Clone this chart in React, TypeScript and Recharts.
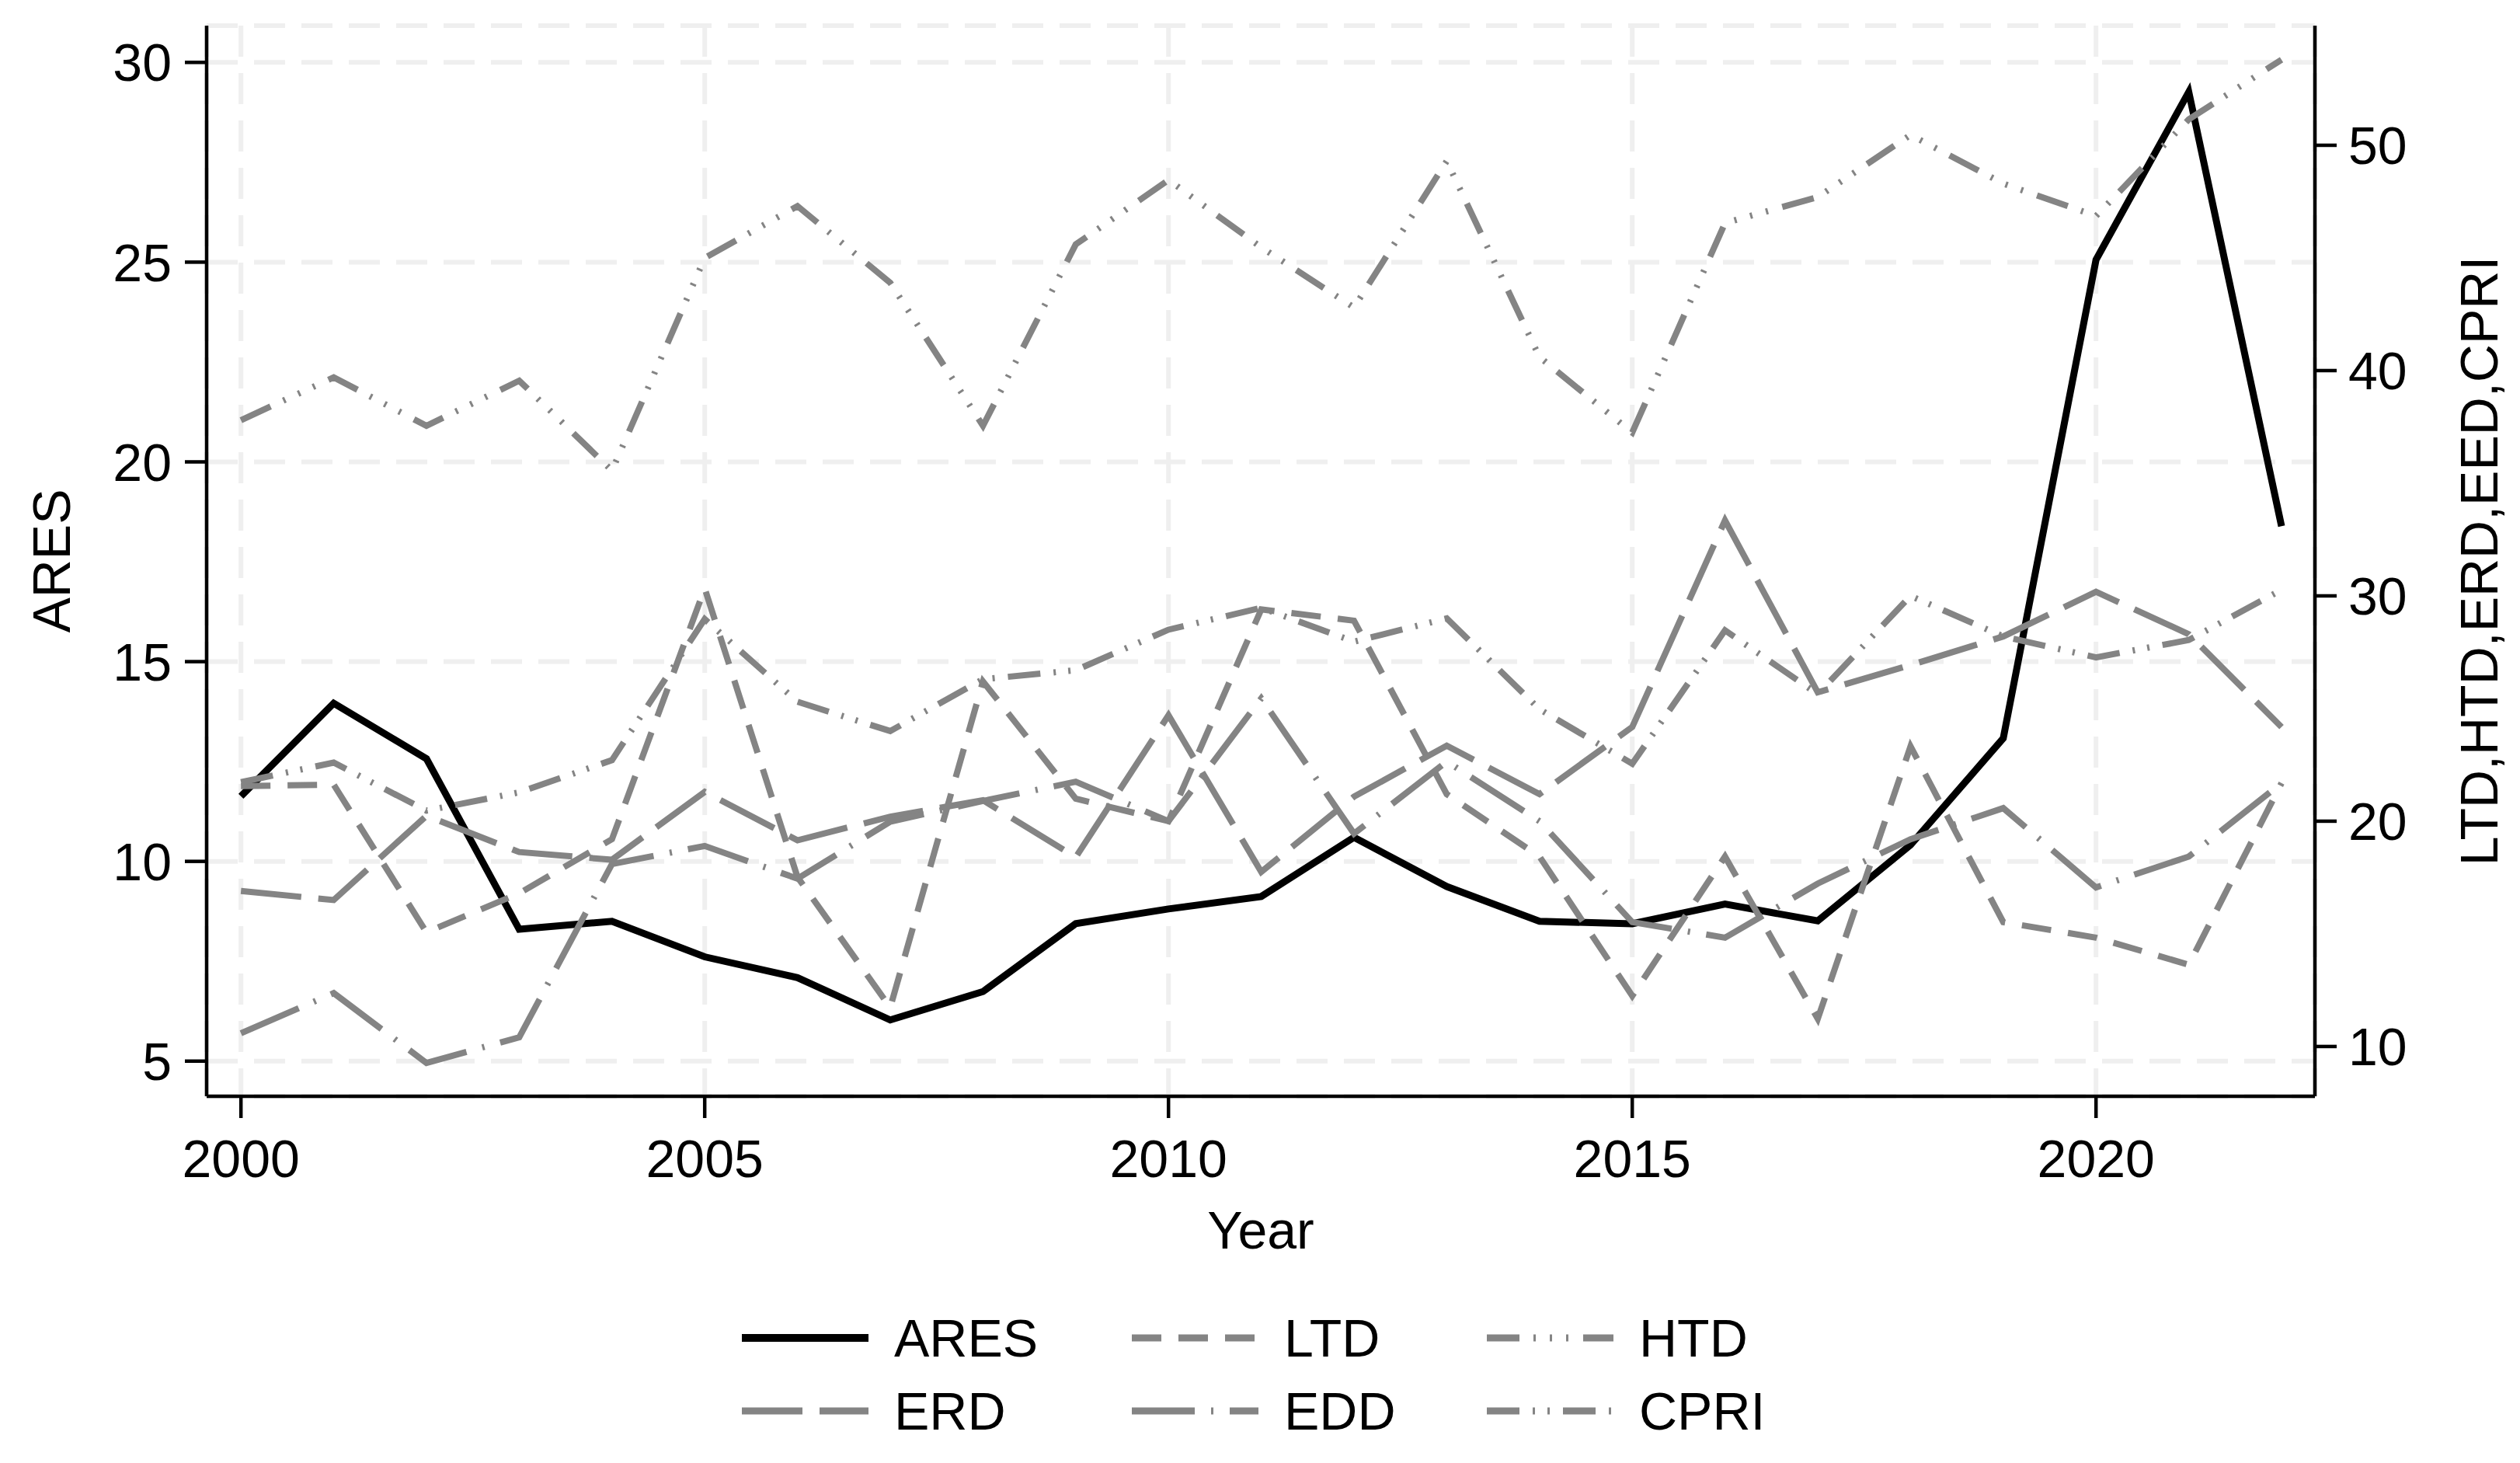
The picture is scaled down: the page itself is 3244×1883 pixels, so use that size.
import { CartesianGrid, Line, LineChart, XAxis, YAxis } from 'recharts';

const years = [
  2000, 2001, 2002, 2003, 2004, 2005, 2006, 2007, 2008, 2009, 2010, 2011,
  2012, 2013, 2014, 2015, 2016, 2017, 2018, 2019, 2020, 2021, 2022,
];
const ares = [
  11.63, 13.96, 12.57, 8.3, 8.5, 7.61, 7.09, 6.03, 6.74, 8.44, 8.81, 9.12,
  10.6, 9.37, 8.5, 8.44, 8.93, 8.51, 10.41, 13.08, 25.06, 29.26, 18.39,
];
const ltd = [
  21.56, 21.62, 15.07, 16.8, 19.2, 30.33, 17.52, 11.73, 26.2, 21.0, 20.0, 29.4,
  28.9, 21.2, 18.43, 12.25, 18.43, 11.23, 23.32, 15.52, 14.83, 13.63, 21.69,
];
const htd = [
  37.8, 39.7, 37.55, 39.55, 35.56, 45.0, 47.3, 43.9, 37.55, 45.6, 48.46, 45.47,
  42.8, 49.3, 40.6, 37.25, 46.55, 47.7, 50.46, 48.3, 46.86, 51.15, 53.8,
];
const erd = [
  16.9, 16.5, 20.24, 18.63, 18.29, 21.3, 19.15, 20.2, 20.93, 18.4, 24.7, 17.75,
  21.09, 23.35, 21.2, 24.18, 33.35, 25.72, 26.93, 28.2, 30.18, 28.3, 24.18,
];
const edd = [
  10.59, 12.37, 9.27, 10.41, 18.1, 18.9, 17.45, 19.98, 20.9, 21.75, 20.0, 25.45,
  19.45, 22.65, 20.0, 15.52, 14.83, 17.23, 19.2, 20.58, 17.06, 18.43, 21.69,
];
const cpri = [
  21.73, 22.6, 20.47, 21.28, 22.71, 28.97, 25.3, 24.0, 26.3, 26.7, 28.5, 29.47,
  27.97, 29.0, 24.97, 22.55, 28.47, 25.64, 30.0, 28.2, 27.27, 28.04, 30.27,
];

const yearTicks = [2000, 2005, 2010, 2015, 2020];
const leftTicks = [5, 10, 15, 20, 25, 30];
const rightTicks = [10, 20, 30, 40, 50];

const W = 3244;
const H = 1883;
const FONT = '"Liberation Sans", Arial, Helvetica, sans-serif';
const FS = 68;
const GRAY = '#848484';

const series = [
  { key: 'ARES', values: ares, axis: 'left', color: '#000', width: 9, dash: undefined },
  { key: 'LTD', values: ltd, axis: 'right', color: GRAY, width: 8, dash: '38 22' },
  { key: 'HTD', values: htd, axis: 'right', color: GRAY, width: 8, dash: '42 18 3 18 3 18 3 19' },
  { key: 'ERD', values: erd, axis: 'right', color: GRAY, width: 8, dash: '78 22' },
  { key: 'EDD', values: edd, axis: 'right', color: GRAY, width: 8, dash: '81 21 3 21' },
  { key: 'CPRI', values: cpri, axis: 'right', color: GRAY, width: 8, dash: '42 17 3 16 3 17' },
];

const data = years.map((year, i) => {
  const row: Record<string, number> = { year };
  series.forEach((s) => {
    row[s.key] = s.values[i];
  });
  return row;
});

const tickStyle = { fill: '#000', fontSize: FS, fontFamily: FONT };
const axisStroke = { stroke: '#000', strokeWidth: 4.5 };

function sideTitle(text: string, dx: number, fallbackX: number) {
  return (props: any) => {
    const vb = props.viewBox || { x: fallbackX, y: 33, width: 264, height: 1378 };
    const cx = vb.x + dx;
    const cy = vb.y + vb.height / 2;
    return (
      <text
        x={cx}
        y={cy}
        transform={`rotate(-90 ${cx} ${cy})`}
        textAnchor="middle"
        dominantBaseline="central"
        fill="#000"
        fontSize={FS}
        fontFamily={FONT}
      >
        {text}
      </text>
    );
  };
}

function yearTitle(props: any) {
  const vb = props.viewBox || { x: 266, y: 1411, width: 2714, height: 200 };
  return (
    <text
      x={vb.x + vb.width / 2}
      y={vb.y + 196}
      textAnchor="middle"
      fill="#000"
      fontSize={FS}
      fontFamily={FONT}
    >
      Year
    </text>
  );
}

const legendCols = [955, 1457, 1914];
const legendRows = [1722, 1816];

function LegendOverlay() {
  return (
    <svg
      width={W}
      height={H}
      style={{ position: 'absolute', left: 0, top: 0, pointerEvents: 'none' }}
    >
      {series.map((s, i) => {
        const x = legendCols[i % 3];
        const y = legendRows[Math.floor(i / 3)];
        return (
          <g key={s.key}>
            <line
              x1={x}
              x2={x + 163}
              y1={y}
              y2={y}
              stroke={s.color}
              strokeWidth={s.key === 'ARES' ? 10 : 9}
              strokeDasharray={s.dash}
            />
            <text
              x={x + 196}
              y={y}
              dominantBaseline="central"
              fill="#000"
              fontSize={FS}
              fontFamily={FONT}
            >
              {s.key}
            </text>
          </g>
        );
      })}
    </svg>
  );
}

export default function App() {
  return (
    <div style={{ position: 'absolute', left: 0, top: 0, width: W, height: H, background: '#fff' }}>
      <LineChart width={W} height={H} data={data} margin={{ top: 33, right: 0, bottom: 272, left: 0 }}>
        <CartesianGrid
          yAxisId="left"
          stroke="#efefef"
          strokeWidth={6}
          strokeDasharray="40 21"
        />
        <XAxis
          dataKey="year"
          type="number"
          domain={[1999.63, 2022.36]}
          ticks={yearTicks}
          interval={0}
          allowDataOverflow
          height={200}
          tickSize={28}
          tickMargin={28}
          tick={tickStyle}
          axisLine={axisStroke}
          tickLine={axisStroke}
          label={yearTitle}
        />
        <YAxis
          yAxisId="left"
          domain={[4.12, 30.92]}
          ticks={leftTicks}
          interval={0}
          allowDataOverflow
          width={266}
          tickSize={28}
          tickMargin={17}
          tick={tickStyle}
          axisLine={axisStroke}
          tickLine={axisStroke}
          label={sideTitle('ARES', 66, 0)}
        />
        <YAxis
          yAxisId="right"
          orientation="right"
          domain={[7.79, 55.31]}
          ticks={rightTicks}
          interval={0}
          allowDataOverflow
          width={264}
          tickSize={28}
          tickMargin={15}
          tick={tickStyle}
          axisLine={axisStroke}
          tickLine={axisStroke}
          label={sideTitle('LTD,HTD,ERD,EED,CPRI', 211, 2980)}
        />
        {series.map((s) => (
          <Line
            key={s.key}
            yAxisId={s.axis}
            type="linear"
            dataKey={s.key}
            stroke={s.color}
            strokeWidth={s.width}
            strokeDasharray={s.dash}
            dot={false}
            activeDot={false}
            isAnimationActive={false}
          />
        ))}
      </LineChart>
      <LegendOverlay />
    </div>
  );
}
